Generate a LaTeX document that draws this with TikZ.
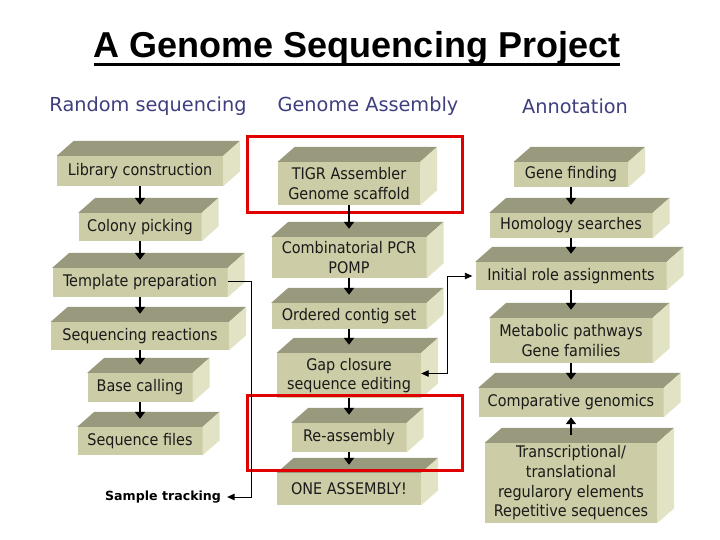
\documentclass[tikz,border=0pt]{standalone}
\usepackage{fontspec}
\setmainfont{DejaVu Sans}
\newfontfamily\boxfont{DejaVu Sans Condensed}
\newfontfamily\titlefont{Liberation Sans}
\usetikzlibrary{arrows.meta}
\definecolor{khfront}{HTML}{CCCCA6}
\definecolor{khtop}{HTML}{99997D}
\definecolor{khside}{HTML}{E2E2C4}
\definecolor{hdrblue}{HTML}{3F3F7F}
\definecolor{boxtxt}{HTML}{1A1A1A}
\definecolor{redframe}{HTML}{E00000}
\begin{document}
\begin{tikzpicture}[x=1pt,y=-1pt,
  blk/.style={rectangle, fill=khfront, inner sep=0pt, align=center, text=boxtxt,
    font=\boxfont\fontsize{16}{19.7}\selectfont},
  hdr/.style={text=hdrblue, font=\fontsize{19.3}{23}\selectfont, inner sep=0pt},
  flow/.style={line width=2.2pt, -{Triangle[width=10pt,length=7pt]}, shorten >=8pt},
  link/.style={line width=0.9pt, -{Triangle[width=6.5pt,length=7.5pt]}},
  frame/.style={draw=redframe, line width=3pt}]
\useasboundingbox[fill=white] (0,0) rectangle (720,540);

% title
\node[font=\titlefont\bfseries\fontsize{36}{41}\selectfont, inner sep=0pt, anchor=base] (title) at (357,58) {A Genome Sequencing Project};
\draw[line width=3pt] ([yshift=-6.5pt]title.base west) -- ([yshift=-6.5pt]title.base east);

% headers
\node[hdr] (h1) at (148,106) {Random sequencing};
\node[hdr] (h2) at (368,106) {Genome Assembly};
\node[hdr] (h3) at (575,106) {Annotation};

% left column
\node[blk, minimum width=166, minimum height=30] (lib) at (140,171) {Library construction};
\node[blk, minimum width=123, minimum height=28] (col) at (140,227) {Colony picking};
\node[blk, minimum width=175, minimum height=29] (tmpl) at (140,282.5) {Template preparation};
\node[blk, minimum width=178, minimum height=28] (seq) at (140,336) {Sequencing reactions};
\node[blk, minimum width=105, minimum height=29] (base) at (140,387.5) {Base calling};
\node[blk, minimum width=125, minimum height=28] (files) at (140,441) {Sequence files};

% middle column
\node[blk, minimum width=142, minimum height=43] (tigr) at (349,183.5) {TIGR Assembler\\Genome scaffold};
\node[blk, minimum width=155, minimum height=41] (comb) at (349,257.5) {Combinatorial PCR\\POMP};
\node[blk, minimum width=155, minimum height=26] (ord) at (349,316) {Ordered contig set};
\node[blk, minimum width=144, minimum height=45] (gap) at (349,375.5) {Gap closure\\sequence editing};
\node[blk, minimum width=115, minimum height=29] (re) at (349,437.5) {Re-assembly};
\node[blk, minimum width=144, minimum height=32] (one) at (349,489) {ONE ASSEMBLY!};

% right column
\node[blk, minimum width=114, minimum height=25] (gene) at (571,174.5) {Gene finding};
\node[blk, minimum width=163, minimum height=25] (hom) at (571,225.5) {Homology searches};
\node[blk, minimum width=191, minimum height=28] (init) at (571,276) {Initial role assignments};
\node[blk, minimum width=163, minimum height=45] (met) at (571,340.5) {Metabolic pathways\\Gene families};
\node[blk, minimum width=185, minimum height=29] (comp) at (571,402.5) {Comparative genomics};
\node[blk, minimum width=172, minimum height=80] (trans) at (571,483) {Transcriptional/\\translational\\regularory elements\\Repetitive sequences};

% 3D faces
\foreach \n in {lib,col,tmpl,seq,base,files,tigr,comb,ord,gap,re,one,gene,hom,init,met,comp,trans}{
  \fill[khtop] (\n.north west) -- ++(17,-15) -- ([shift={(17,-15)}]\n.north east) -- (\n.north east) -- cycle;
  \fill[khside] (\n.north east) -- ++(17,-15) -- ([shift={(17,-15)}]\n.south east) -- (\n.south east) -- cycle;
}

% sample tracking
\node[font=\bfseries\fontsize{12.6}{15}\selectfont, inner sep=0pt] (st) at (163,497) {Sample tracking};

% red frames
\draw[frame] (247,137) rectangle (462,213);
\draw[frame] (247,395) rectangle (462,470);

% flow arrows
\draw[flow] (lib.south) -- (col.north);
\draw[flow] (col.south) -- (tmpl.north);
\draw[flow] (tmpl.south) -- (seq.north);
\draw[flow] (seq.south) -- (base.north);
\draw[flow] (base.south) -- (files.north);
\draw[flow] (tigr.south) -- (comb.north);
\draw[flow] (comb.south) -- (ord.north);
\draw[flow] (ord.south) -- (gap.north);
\draw[flow] (gap.south) -- (re.north);
\draw[flow] (re.south) -- (one.north);
\draw[flow] (gene.south) -- (hom.north);
\draw[flow] (hom.south) -- (init.north);
\draw[flow] (init.south) -- (met.north);
\draw[flow] (met.south) -- (comp.north);
\draw[flow, shorten >=0pt, shorten <=8pt] (trans.north) -- (comp.south);

% thin connectors
\draw[link] ([yshift=1.5pt]tmpl.east) -- ++(24,0) |- ([xshift=6pt]st.east);
\draw[link, {Triangle[width=6.5pt,length=7.5pt]}-{Triangle[width=6.5pt,length=7.5pt]}] ([yshift=2pt]gap.east) -- ++(26,0) |- ([xshift=-3pt]init.west);
\end{tikzpicture}
\end{document}
